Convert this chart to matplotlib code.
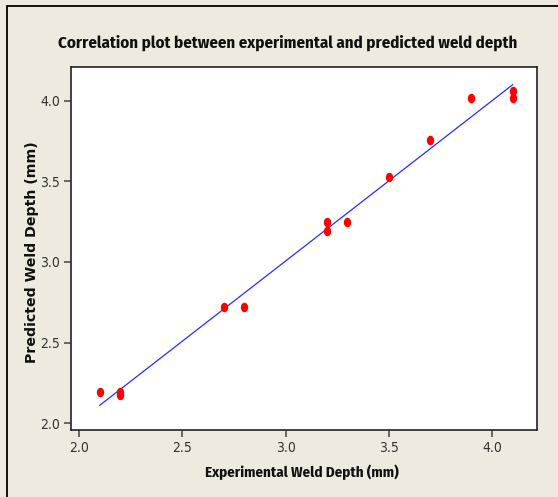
import matplotlib
matplotlib.use("Agg")
import matplotlib.pyplot as plt
import numpy as np
from matplotlib.path import Path
from matplotlib.patches import Rectangle

# Data
experimental = [2.1, 2.2, 2.2, 2.7, 2.8, 3.2, 3.2, 3.3, 3.5, 3.7, 3.9, 4.1, 4.1]
predicted = [2.19, 2.19, 2.175, 2.72, 2.72, 3.25, 3.195, 3.25, 3.53, 3.76, 4.02, 4.06, 4.02]
fit_x = [2.1, 4.1]
fit_y = [2.11, 4.10]
xticks = [2.0, 2.5, 3.0, 3.5, 4.0]
yticks = [2.0, 2.5, 3.0, 3.5, 4.0]

title = "Correlation plot between experimental and predicted weld depth"
xlabel = "Experimental Weld Depth (mm)"
ylabel = "Predicted Weld Depth (mm)"

W, H = 558, 497
fig = plt.figure(figsize=(W / 100, H / 100), dpi=100)
bg = "#EEEAE0"
fig.patch.set_facecolor(bg)

# outer frame (only top/left visible in the reference)
fig.patches.append(Rectangle((7 / W, -0.1), 1.2, 1 - 6 / H + 0.1, transform=fig.transFigure,
                             fill=False, edgecolor="black", linewidth=1.3))

ax = fig.add_axes([71 / W, 1 - 430 / H, 466 / W, 363 / H])
ax.set_facecolor("white")

# ellipse marker (taller than wide)
t = np.linspace(0, 2 * np.pi, 40)
ell = Path(np.column_stack([0.78 * np.cos(t), np.sin(t)]), closed=True)

ax.plot(fit_x, fit_y, color="#2B2BFF", linewidth=0.9, zorder=2)
ax.plot(experimental, predicted, linestyle="none", marker=ell, markersize=6.8,
        color="#FF0000", markeredgewidth=0, zorder=3)

ax.set_xlim(1.961, 4.218)
ax.set_ylim(1.957, 4.21)
ax.set_xticks(xticks)
ax.set_yticks(yticks)
ax.set_xticklabels([f"{v:.1f}" for v in xticks])
ax.set_yticklabels([f"{v:.1f}" for v in yticks])

for s in ax.spines.values():
    s.set_color("#222222")
    s.set_linewidth(1.2)

ax.tick_params(axis="both", direction="out", length=5, width=1.1, color="#444444",
               labelcolor="#333333", labelsize=10, pad=3)
for lab in ax.get_xticklabels() + ax.get_yticklabels():
    lab.set_family("DejaVu Sans")
    lab.set_fontstretch("condensed")

fig.text(0.515, 1 - 43 / H, title, ha="center", va="center",
         family="Fira Sans Condensed", fontweight="bold",
         fontsize=12.2, color="#111111")
fig.text(302 / W, 1 - 472 / H, xlabel, ha="center", va="center",
         family="Fira Sans Condensed", fontweight="bold",
         fontsize=10.8, color="#111111")
fig.text(32 / W, 1 - 252 / H, ylabel, ha="center", va="center", rotation=90,
         family="DejaVu Sans", fontweight="bold", fontsize=10.2, color="#111111")

fig.savefig("out.png", dpi=100, facecolor=bg)
